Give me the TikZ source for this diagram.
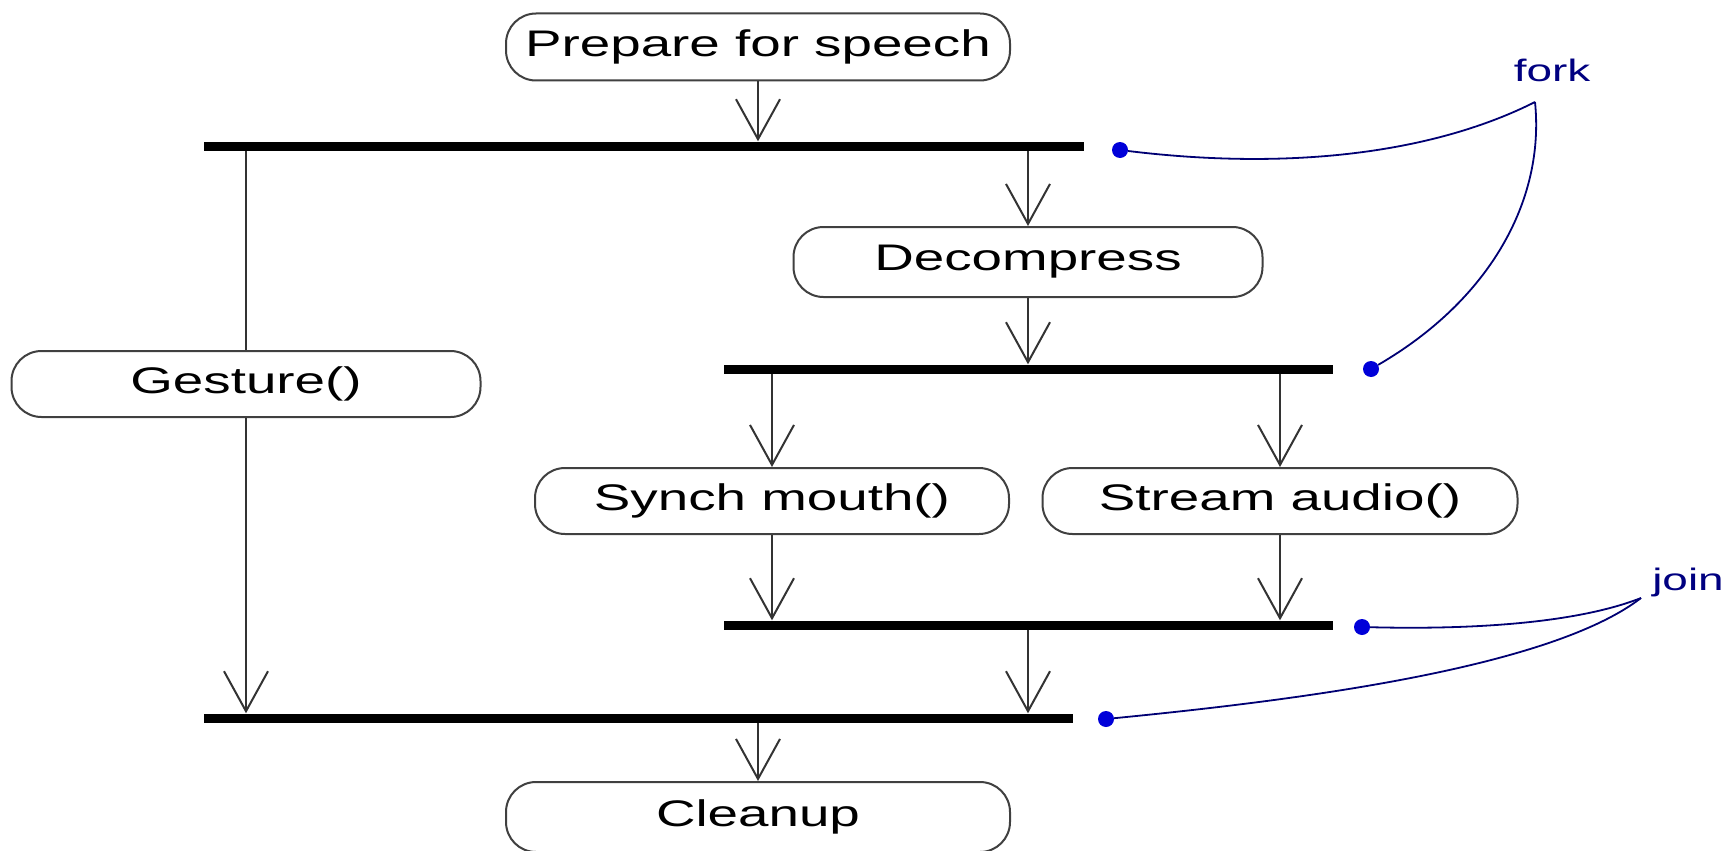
\documentclass[tikz,border=0pt]{standalone}
\usepackage{fontspec}
\setmainfont{Liberation Sans}[FakeStretch=1.48]
\usetikzlibrary{arrows.meta}
\begin{document}
\begin{tikzpicture}[x=1pt,y=-1pt,
  act/.style={draw=black!75, line width=2pt, rounded corners=30pt, fill=white, inner sep=0pt, font=\fontsize{37}{40}\selectfont, text=black},
  bar/.style={fill=black, inner sep=0pt, minimum height=9pt},
  flow/.style={draw=black!80, line width=2pt, -{Straight Barb[length=40pt,width=44pt,line width=2pt]}},
  plainline/.style={draw=black!80, line width=2pt},
  dot/.style={circle, fill=blue!85!black, inner sep=0pt, minimum size=16pt},
  note/.style={draw=blue!45!black, line width=1.8pt},
  lbl/.style={text=blue!50!black, font=\fontsize{31}{33}\selectfont, inner sep=0pt}
]
\useasboundingbox (0,0) rectangle (1725,851);
\clip (0,0) rectangle (1725,851);
\fill[white] (0,0) rectangle (1725,851);

% activities
\node[act, minimum width=504pt, minimum height=67pt] (prep) at (758,47) {Prepare for speech};
\node[act, minimum width=469pt, minimum height=66pt] (gesture) at (246,384) {Gesture()};
\node[act, minimum width=469pt, minimum height=70pt] (decomp) at (1028,262) {Decompress};
\node[act, minimum width=474pt, minimum height=66pt] (synch) at (772,501) {Synch mouth()};
\node[act, minimum width=475pt, minimum height=66pt] (stream) at (1280,501) {Stream audio()};
\node[act, minimum width=504pt, minimum height=70pt] (cleanup) at (758,817) {Cleanup};

% synchronisation bars
\node[bar, minimum width=880pt] (fork1) at (644,146) {};
\node[bar, minimum width=609pt] (fork2) at (1028,369) {};
\node[bar, minimum width=609pt] (join1) at (1028,625) {};
\node[bar, minimum width=869pt] (join2) at (638,718) {};

% flows
\draw[flow] (prep.south) -- (prep.south |- fork1.north);
\draw[plainline] (fork1.south -| gesture.north) -- (gesture.north);
\draw[flow] (gesture.south) -- (gesture.south |- join2.north);
\draw[flow] (fork1.south -| decomp.north) -- (decomp.north);
\draw[flow] (decomp.south) -- (decomp.south |- fork2.north);
\draw[flow] (fork2.south -| synch.north) -- (synch.north);
\draw[flow] (fork2.south -| stream.north) -- (stream.north);
\draw[flow] (synch.south) -- (synch.south |- join1.north);
\draw[flow] (stream.south) -- (stream.south |- join1.north);
\draw[flow] (join1.south) -- (join1.south |- join2.north);
\draw[flow] (join2.south -| cleanup.north) -- (cleanup.north);

% annotations
\node[dot] (d1) at (1120,150) {};
\node[dot] (d2) at (1371,369) {};
\node[dot] (j1) at (1362,627) {};
\node[dot] (j2) at (1106,719) {};
\node[lbl] (forklbl) at (1552,70) {fork};
\node[lbl] (joinlbl) at (1688,582) {join};
\coordinate (forkapex) at (1535,102);
\coordinate (joinapex) at (1641,598);
\draw[note] (d1) .. controls (1300,172) and (1440,150) .. (forkapex);
\draw[note] (forkapex) .. controls (1545,200) and (1490,300) .. (d2);
\draw[note] (j1) .. controls (1480,630) and (1580,622) .. (joinapex);
\draw[note] (j2) .. controls (1300,700) and (1550,668) .. (joinapex);
\end{tikzpicture}
\end{document}
